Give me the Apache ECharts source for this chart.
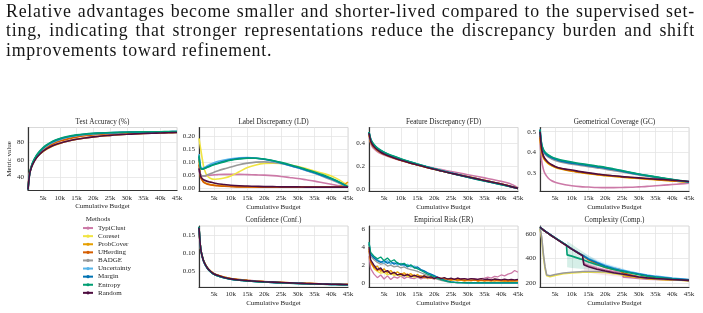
<!DOCTYPE html>
<html>
<head>
<meta charset="utf-8">
<script src="https://cdn.jsdelivr.net/npm/echarts@6/dist/echarts.min.js"></script>
<style>
  html, body { margin: 0; padding: 0; background: #fff; }
  #wrap { position: relative; width: 703px; height: 313px; overflow: hidden; }
  #chart { position: absolute; left: 0; top: 0; width: 703px; height: 313px; }
  #para {
    position: absolute; left: 6px; top: 1.5px; width: 689px;
    font-family: "Liberation Serif", serif; font-size: 17.8px; line-height: 19.7px; color: #161616;
    letter-spacing: 0.8px;
  }
  #para div { text-align: justify; text-align-last: justify; white-space: nowrap; }
  #para div.last { text-align-last: left; }
</style>
</head>
<body>
<div id="wrap">
  <div id="chart"></div>
  <div id="para">
    <div>Relative advantages become smaller and shorter-lived compared to the supervised set-</div>
    <div>ting, indicating that stronger representations reduce the discrepancy burden and shift</div>
    <div class="last">improvements toward refinement.</div>
  </div>
</div>
<script>
// ---- data ----
const METHODS = ["TypiClust", "Coreset", "ProbCover", "UHerding", "BADGE", "Uncertainty", "Margin", "Entropy", "Random"];
const COLORS = ["#cc79a7", "#f0e442", "#e69f00", "#d55e00", "#999999", "#56b4e9", "#0072b2", "#009e73", "#4e0d40"];

const BUDGET = [500, 1000, 1500, 2000, 3000, 4000, 5000, 6000, 8000, 10000, 12500, 15000, 17500, 20000, 22500, 25000, 27500, 30000, 32500, 35000, 37500, 40000, 42500, 45000];
const X_TICKS = [5000, 10000, 15000, 20000, 25000, 30000, 35000, 40000, 45000];

const ACC = {
  TypiClust:   [30, 46, 53, 57.5, 63, 67, 70, 72.5, 76.5, 79, 81.5, 83.5, 85, 86.2, 87.2, 88, 88.7, 89.3, 89.8, 90.2, 90.6, 90.9, 91.2, 91.4],
  Coreset:     [26, 44, 51, 56, 63, 68, 71.5, 74.5, 79, 82, 85, 87, 88.3, 89.2, 89.9, 90.4, 90.8, 91.1, 91.4, 91.6, 91.8, 91.9, 92, 92.1],
  ProbCover:   [28, 45, 52, 56.5, 62.5, 66.5, 69.5, 72, 76, 78.8, 81.5, 83.5, 85, 86.2, 87.2, 88, 88.7, 89.3, 89.8, 90.2, 90.5, 90.8, 91.1, 91.3],
  UHerding:    [27, 45, 52, 57, 63.5, 68, 71.5, 74, 78.5, 81.5, 84, 86, 87.5, 88.5, 89.3, 89.9, 90.4, 90.8, 91.1, 91.4, 91.6, 91.8, 91.9, 92],
  BADGE:       [26, 44.5, 52, 57, 64, 69, 72.5, 75.5, 80, 83, 85.8, 87.6, 88.8, 89.7, 90.3, 90.8, 91.1, 91.4, 91.6, 91.8, 91.9, 92, 92.1, 92.2],
  Uncertainty: [26, 44, 51.5, 57, 64, 69, 73, 76, 80.5, 83.5, 86.2, 88, 89.2, 90, 90.6, 91, 91.3, 91.5, 91.7, 91.9, 92, 92.1, 92.2, 92.3],
  Margin:      [26, 44.5, 52, 57.5, 64.5, 69.5, 73.5, 76.5, 81, 84, 86.5, 88.2, 89.3, 90.1, 90.6, 91, 91.3, 91.6, 91.8, 91.9, 92, 92.1, 92.2, 92.3],
  Entropy:     [26, 45, 52.5, 58, 65, 70, 74, 77, 81.5, 84.5, 87, 88.6, 89.6, 90.3, 90.8, 91.2, 91.5, 91.7, 91.9, 92, 92.1, 92.2, 92.3, 92.4],
  Random:      [26, 44, 51, 55.5, 62, 66.5, 70, 72.5, 76.5, 79, 81.5, 83.5, 85, 86.3, 87.3, 88, 88.7, 89.2, 89.7, 90.1, 90.4, 90.7, 91, 91.2]
};

const LD = {
  TypiClust:   [0.065, 0.05, 0.046, 0.045, 0.047, 0.049, 0.05, 0.051, 0.052, 0.052, 0.052, 0.051, 0.05, 0.049, 0.047, 0.044, 0.04, 0.036, 0.031, 0.026, 0.02, 0.014, 0.008, 0.003],
  Coreset:     [0.19, 0.15, 0.11, 0.075, 0.045, 0.036, 0.033, 0.034, 0.038, 0.046, 0.062, 0.078, 0.088, 0.094, 0.095, 0.094, 0.089, 0.082, 0.074, 0.065, 0.056, 0.046, 0.03, 0.008],
  ProbCover:   [0.11, 0.045, 0.03, 0.022, 0.016, 0.013, 0.011, 0.009, 0.007, 0.006, 0.005, 0.004, 0.004, 0.003, 0.003, 0.003, 0.003, 0.003, 0.003, 0.003, 0.003, 0.003, 0.005, 0.022],
  UHerding:    [0.09, 0.04, 0.028, 0.02, 0.014, 0.011, 0.009, 0.008, 0.006, 0.005, 0.004, 0.004, 0.003, 0.003, 0.003, 0.003, 0.003, 0.003, 0.003, 0.003, 0.003, 0.003, 0.003, 0.003],
  BADGE:       [0.075, 0.05, 0.046, 0.046, 0.05, 0.055, 0.06, 0.065, 0.073, 0.08, 0.089, 0.095, 0.099, 0.1, 0.098, 0.094, 0.086, 0.077, 0.067, 0.056, 0.044, 0.031, 0.017, 0.004],
  Uncertainty: [0.13, 0.08, 0.075, 0.078, 0.085, 0.092, 0.097, 0.101, 0.107, 0.112, 0.116, 0.117, 0.115, 0.11, 0.103, 0.095, 0.086, 0.077, 0.067, 0.057, 0.046, 0.034, 0.02, 0.004],
  Margin:      [0.12, 0.075, 0.072, 0.074, 0.08, 0.086, 0.091, 0.095, 0.102, 0.108, 0.113, 0.115, 0.114, 0.11, 0.104, 0.096, 0.087, 0.078, 0.068, 0.058, 0.047, 0.035, 0.021, 0.004],
  Entropy:     [0.125, 0.075, 0.072, 0.074, 0.079, 0.084, 0.089, 0.093, 0.1, 0.106, 0.111, 0.114, 0.114, 0.111, 0.105, 0.098, 0.09, 0.081, 0.071, 0.061, 0.05, 0.037, 0.022, 0.004],
  Random:      [0.075, 0.045, 0.035, 0.03, 0.025, 0.022, 0.019, 0.016, 0.013, 0.01, 0.008, 0.007, 0.006, 0.005, 0.005, 0.004, 0.004, 0.004, 0.003, 0.003, 0.003, 0.003, 0.003, 0.003]
};

const FD = {
  TypiClust:   [0.47, 0.4, 0.37, 0.353, 0.328, 0.311, 0.298, 0.286, 0.266, 0.249, 0.23, 0.212, 0.196, 0.181, 0.166, 0.152, 0.138, 0.124, 0.11, 0.096, 0.081, 0.065, 0.046, 0.01],
  Coreset:     [0.49, 0.42, 0.39, 0.37, 0.342, 0.322, 0.307, 0.294, 0.272, 0.253, 0.231, 0.211, 0.191, 0.172, 0.155, 0.138, 0.122, 0.106, 0.09, 0.074, 0.058, 0.042, 0.024, 0.003],
  ProbCover:   [0.48, 0.41, 0.385, 0.366, 0.339, 0.32, 0.305, 0.292, 0.27, 0.251, 0.23, 0.21, 0.19, 0.172, 0.155, 0.138, 0.122, 0.106, 0.09, 0.074, 0.058, 0.041, 0.023, 0.003],
  UHerding:    [0.49, 0.42, 0.39, 0.37, 0.342, 0.322, 0.306, 0.293, 0.271, 0.252, 0.23, 0.21, 0.19, 0.171, 0.154, 0.137, 0.121, 0.105, 0.089, 0.073, 0.057, 0.041, 0.023, 0.003],
  BADGE:       [0.5, 0.43, 0.4, 0.38, 0.35, 0.33, 0.314, 0.3, 0.278, 0.258, 0.235, 0.214, 0.194, 0.175, 0.157, 0.139, 0.122, 0.105, 0.088, 0.072, 0.056, 0.039, 0.022, 0.003],
  Uncertainty: [0.5, 0.437, 0.407, 0.387, 0.357, 0.337, 0.321, 0.307, 0.284, 0.263, 0.24, 0.218, 0.197, 0.177, 0.158, 0.14, 0.122, 0.104, 0.087, 0.07, 0.054, 0.038, 0.021, 0.002],
  Margin:      [0.5, 0.435, 0.405, 0.385, 0.355, 0.335, 0.319, 0.305, 0.282, 0.261, 0.238, 0.216, 0.195, 0.175, 0.156, 0.138, 0.12, 0.102, 0.085, 0.069, 0.053, 0.037, 0.02, 0.002],
  Entropy:     [0.5, 0.44, 0.41, 0.39, 0.36, 0.34, 0.323, 0.309, 0.286, 0.265, 0.241, 0.218, 0.196, 0.175, 0.156, 0.137, 0.119, 0.101, 0.084, 0.068, 0.052, 0.036, 0.02, 0.002],
  Random:      [0.49, 0.42, 0.39, 0.37, 0.342, 0.322, 0.306, 0.293, 0.271, 0.252, 0.23, 0.21, 0.19, 0.171, 0.154, 0.137, 0.121, 0.105, 0.089, 0.073, 0.057, 0.041, 0.023, 0.003]
};

const GC = {
  TypiClust:   [0.46, 0.36, 0.32, 0.298, 0.276, 0.264, 0.257, 0.252, 0.245, 0.24, 0.236, 0.234, 0.232, 0.231, 0.231, 0.232, 0.233, 0.235, 0.237, 0.24, 0.243, 0.246, 0.249, 0.252],
  Coreset:     [0.48, 0.405, 0.378, 0.364, 0.347, 0.337, 0.33, 0.324, 0.317, 0.311, 0.305, 0.299, 0.294, 0.29, 0.286, 0.282, 0.279, 0.276, 0.273, 0.27, 0.267, 0.264, 0.261, 0.258],
  ProbCover:   [0.47, 0.4, 0.375, 0.362, 0.346, 0.336, 0.329, 0.323, 0.316, 0.31, 0.304, 0.298, 0.293, 0.289, 0.285, 0.281, 0.278, 0.275, 0.272, 0.269, 0.266, 0.263, 0.26, 0.257],
  UHerding:    [0.48, 0.41, 0.382, 0.367, 0.35, 0.34, 0.332, 0.326, 0.319, 0.313, 0.306, 0.3, 0.295, 0.291, 0.287, 0.283, 0.28, 0.277, 0.274, 0.271, 0.268, 0.265, 0.262, 0.259],
  BADGE:       [0.505, 0.43, 0.405, 0.392, 0.378, 0.369, 0.362, 0.357, 0.35, 0.344, 0.338, 0.332, 0.326, 0.32, 0.313, 0.306, 0.299, 0.292, 0.285, 0.279, 0.273, 0.268, 0.263, 0.258],
  Uncertainty: [0.51, 0.438, 0.412, 0.4, 0.386, 0.377, 0.37, 0.365, 0.358, 0.352, 0.345, 0.339, 0.333, 0.327, 0.32, 0.312, 0.304, 0.296, 0.289, 0.282, 0.276, 0.27, 0.264, 0.259],
  Margin:      [0.51, 0.436, 0.41, 0.397, 0.383, 0.374, 0.367, 0.362, 0.355, 0.349, 0.343, 0.337, 0.331, 0.325, 0.318, 0.31, 0.302, 0.295, 0.288, 0.281, 0.275, 0.269, 0.264, 0.259],
  Entropy:     [0.51, 0.44, 0.415, 0.402, 0.388, 0.379, 0.372, 0.367, 0.36, 0.354, 0.347, 0.341, 0.335, 0.329, 0.321, 0.313, 0.305, 0.297, 0.29, 0.283, 0.277, 0.271, 0.265, 0.26],
  Random:      [0.5, 0.415, 0.385, 0.37, 0.352, 0.341, 0.333, 0.327, 0.32, 0.316, 0.308, 0.302, 0.297, 0.292, 0.288, 0.284, 0.281, 0.278, 0.275, 0.272, 0.27, 0.267, 0.264, 0.261]
};

const CONF = {
  TypiClust:   [0.17, 0.111, 0.089, 0.075, 0.058, 0.048, 0.042, 0.038, 0.032, 0.028, 0.025, 0.023, 0.021, 0.0195, 0.018, 0.017, 0.016, 0.015, 0.0142, 0.0135, 0.0128, 0.0122, 0.0117, 0.0112],
  Coreset:     [0.172, 0.112, 0.09, 0.075, 0.058, 0.048, 0.041, 0.037, 0.031, 0.027, 0.024, 0.022, 0.0205, 0.019, 0.0178, 0.0167, 0.0157, 0.0148, 0.014, 0.0133, 0.0126, 0.012, 0.0115, 0.011],
  ProbCover:   [0.171, 0.112, 0.09, 0.076, 0.059, 0.049, 0.042, 0.038, 0.032, 0.028, 0.025, 0.0228, 0.021, 0.0195, 0.0182, 0.017, 0.016, 0.0151, 0.0143, 0.0136, 0.0129, 0.0123, 0.0118, 0.0113],
  UHerding:    [0.172, 0.111, 0.089, 0.075, 0.058, 0.048, 0.041, 0.037, 0.031, 0.027, 0.024, 0.022, 0.0204, 0.019, 0.0178, 0.0167, 0.0157, 0.0148, 0.014, 0.0133, 0.0126, 0.012, 0.0115, 0.011],
  BADGE:       [0.173, 0.111, 0.088, 0.074, 0.057, 0.047, 0.04, 0.036, 0.03, 0.026, 0.023, 0.021, 0.0195, 0.018, 0.017, 0.016, 0.015, 0.0142, 0.0134, 0.0127, 0.012, 0.0114, 0.0109, 0.0104],
  Uncertainty: [0.174, 0.112, 0.089, 0.074, 0.057, 0.047, 0.04, 0.036, 0.03, 0.026, 0.023, 0.021, 0.0195, 0.018, 0.017, 0.016, 0.015, 0.0142, 0.0134, 0.0127, 0.012, 0.0114, 0.0109, 0.0104],
  Margin:      [0.174, 0.112, 0.089, 0.074, 0.057, 0.047, 0.04, 0.036, 0.03, 0.026, 0.023, 0.021, 0.0195, 0.018, 0.017, 0.016, 0.015, 0.0142, 0.0134, 0.0127, 0.012, 0.0114, 0.0109, 0.0104],
  Entropy:     [0.175, 0.113, 0.09, 0.075, 0.057, 0.047, 0.04, 0.036, 0.03, 0.026, 0.023, 0.021, 0.0193, 0.0178, 0.0168, 0.0158, 0.0148, 0.014, 0.0132, 0.0125, 0.0118, 0.0112, 0.0107, 0.0102],
  Random:      [0.172, 0.112, 0.09, 0.075, 0.058, 0.048, 0.041, 0.037, 0.031, 0.027, 0.024, 0.022, 0.0205, 0.019, 0.0178, 0.0167, 0.0157, 0.0148, 0.014, 0.0133, 0.0126, 0.012, 0.0115, 0.011]
};

// empirical risk, one value per 1k of budget
const ER_BUDGET = [500, 1000, 2000, 3000, 4000, 5000, 6000, 7000, 8000, 9000,
  10000, 11000, 12000, 13000, 14000, 15000, 16000, 17000, 18000, 19000,
  20000, 21000, 22000, 23000, 24000, 25000, 26000, 27000, 28000, 29000,
  30000, 31000, 32000, 33000, 34000, 35000, 36000, 37000, 38000, 39000,
  40000, 41000, 42000, 43000, 44000, 45000];
const ER = {
  TypiClust: [3.0, 1.6, 1.0, 0.6, 0.9, 0.45, 0.8, 0.4, 0.7, 0.55,
    0.8, 0.5, 0.7, 0.55, 0.5, 0.65, 0.45, 0.6, 0.5, 0.55,
    0.45, 0.6, 0.5, 0.55, 0.45, 0.5, 0.4, 0.55, 0.45, 0.5,
    0.42, 0.5, 0.45, 0.4, 0.5, 0.55, 0.65, 0.55, 0.75, 0.7,
    0.9, 0.8, 1.0, 1.1, 1.4, 1.2],
  Coreset: [4.2, 2.5, 1.6, 1.3, 1.1, 1.2, 0.9, 1.05, 0.85, 0.95,
    0.8, 0.9, 0.7, 0.8, 0.65, 0.75, 0.6, 0.7, 0.55, 0.65,
    0.5, 0.6, 0.45, 0.5, 0.4, 0.45, 0.35, 0.42, 0.32, 0.38,
    0.3, 0.35, 0.28, 0.33, 0.26, 0.3, 0.25, 0.3, 0.22, 0.28,
    0.22, 0.26, 0.2, 0.25, 0.22, 0.24],
  ProbCover: [3.8, 2.3, 1.7, 1.9, 1.3, 1.6, 1.1, 1.4, 1.0, 1.25,
    0.95, 1.15, 0.85, 1.05, 0.75, 0.95, 0.65, 0.85, 0.6, 0.75,
    0.5, 0.6, 0.45, 0.55, 0.35, 0.3, 0.38, 0.25, 0.32, 0.22,
    0.3, 0.25, 0.35, 0.2, 0.3, 0.25, 0.32, 0.22, 0.45, 0.28,
    0.3, 0.22, 0.3, 0.25, 0.28, 0.3],
  UHerding: [3.6, 2.4, 1.8, 1.4, 1.6, 1.2, 1.4, 1.05, 1.2, 0.9,
    1.05, 0.85, 1.0, 0.75, 0.9, 0.7, 0.8, 0.6, 0.7, 0.55,
    0.62, 0.48, 0.55, 0.42, 0.5, 0.38, 0.45, 0.35, 0.42, 0.3,
    0.38, 0.3, 0.35, 0.28, 0.32, 0.25, 0.3, 0.28, 0.25, 0.3,
    0.25, 0.28, 0.22, 0.26, 0.24, 0.25],
  BADGE: [4.3, 3.0, 2.6, 2.3, 2.1, 2.2, 1.9, 2.0, 1.8, 1.9,
    1.7, 1.8, 1.6, 1.5, 1.4, 1.3, 1.15, 1.0, 0.85, 0.7,
    0.55, 0.42, 0.3, 0.21, 0.14, 0.1, 0.07, 0.05, 0.04, 0.03,
    0.03, 0.02, 0.02, 0.02, 0.02, 0.02, 0.02, 0.01, 0.01, 0.01,
    0.01, 0.01, 0.01, 0.01, 0.01, 0.01],
  Uncertainty: [4.5, 3.3, 2.9, 2.6, 2.4, 2.2, 2.5, 2.1, 2.3, 2.0,
    2.2, 1.9, 2.1, 1.8, 1.9, 1.6, 1.45, 1.3, 1.1, 0.95,
    0.78, 0.6, 0.44, 0.3, 0.2, 0.13, 0.08, 0.06, 0.04, 0.04,
    0.03, 0.03, 0.02, 0.02, 0.02, 0.02, 0.02, 0.01, 0.02, 0.01,
    0.01, 0.01, 0.01, 0.01, 0.01, 0.01],
  Margin: [4.4, 3.2, 2.8, 2.5, 2.3, 2.5, 2.2, 2.4, 2.1, 2.3,
    2.0, 2.1, 1.8, 2.0, 1.7, 1.8, 1.5, 1.35, 1.15, 1.0,
    0.82, 0.64, 0.48, 0.34, 0.22, 0.14, 0.09, 0.06, 0.05, 0.04,
    0.03, 0.03, 0.03, 0.02, 0.02, 0.02, 0.02, 0.02, 0.02, 0.01,
    0.01, 0.02, 0.01, 0.01, 0.01, 0.01],
  Entropy: [4.6, 3.4, 3.0, 2.7, 2.9, 2.5, 2.8, 2.4, 2.6, 2.2,
    2.1, 2.2, 1.9, 2.0, 1.7, 1.6, 1.4, 1.2, 1.0, 0.85,
    0.7, 0.52, 0.38, 0.26, 0.17, 0.11, 0.07, 0.05, 0.04, 0.03,
    0.03, 0.02, 0.03, 0.02, 0.02, 0.02, 0.01, 0.02, 0.01, 0.01,
    0.01, 0.01, 0.01, 0.01, 0.01, 0.01],
  Random: [4.0, 2.6, 2.0, 1.5, 1.7, 1.2, 1.4, 1.0, 1.2, 0.9,
    1.0, 0.8, 0.95, 0.7, 0.85, 0.75, 0.6, 0.8, 0.6, 0.7,
    0.5, 0.65, 0.5, 0.6, 0.45, 0.55, 0.4, 0.55, 0.45, 0.5,
    0.4, 0.5, 0.45, 0.4, 0.5, 0.4, 0.45, 0.35, 0.45, 0.4,
    0.35, 0.45, 0.35, 0.4, 0.35, 0.4]
};

const COMP_BUDGET = [500, 1000, 1500, 2000, 2500, 3500, 5000, 7500, 8400, 8600, 10000, 12500, 13200, 13600, 15000, 17500, 20000, 22500, 24500, 25500, 27500, 30000, 32500, 35000, 40000, 45000];
const COMP = {
  TypiClust:   [652, 640, 630, 620, 611, 592, 565, 520, 505, 501, 476, 435, 424, 360, 345, 325, 308, 296, 290, 250, 246, 240, 235, 232, 228, 224],
  Coreset:     [640, 560, 420, 320, 262, 255, 265, 278, 281, 281, 285, 289, 290, 290, 291, 291, 288, 278, 270, 266, 258, 248, 240, 235, 228, 223],
  ProbCover:   [652, 640, 630, 620, 611, 592, 566, 522, 507, 503, 478, 438, 428, 422, 398, 368, 338, 322, 312, 262, 256, 248, 240, 235, 228, 224],
  UHerding:    [652, 640, 630, 620, 611, 592, 566, 521, 506, 502, 477, 436, 426, 420, 390, 356, 328, 312, 305, 285, 270, 255, 245, 238, 230, 225],
  BADGE:       [645, 575, 440, 335, 268, 262, 272, 284, 287, 287, 291, 295, 296, 296, 297, 297, 294, 285, 276, 272, 264, 253, 244, 238, 230, 225],
  Uncertainty: [652, 641, 631, 622, 613, 595, 568, 524, 508, 505, 478, 438, 428, 422, 402, 372, 346, 326, 313, 307, 295, 281, 269, 259, 243, 232],
  Margin:      [652, 641, 631, 622, 613, 594, 567, 523, 507, 504, 477, 437, 427, 421, 396, 366, 338, 318, 305, 300, 289, 276, 264, 254, 240, 229],
  Entropy:     [652, 640, 630, 620, 611, 592, 566, 524, 508, 430, 420, 398, 392, 388, 372, 350, 330, 312, 300, 295, 284, 270, 258, 249, 236, 224],
  Random:      [652, 640, 630, 620, 611, 592, 565, 520, 505, 501, 476, 435, 424, 350, 335, 315, 300, 287, 278, 274, 265, 252, 245, 240, 232, 225]
};
// shaded spread around a few complexity curves
const COMP_BAND_E_X = [8600, 10000, 12500, 15000, 17500];
const COMP_BAND_E_LO = [330, 325, 318, 312, 305];
const COMP_BAND_E_HI = [540, 515, 470, 425, 385];
const COMP_BAND_T_X = [13600, 15000, 17500, 20000, 22500, 24500, 25500];
const COMP_BAND_T_LO = [300, 288, 275, 266, 258, 254, 238];
const COMP_BAND_T_HI = [395, 380, 358, 340, 326, 318, 300];
const COMP_BAND_U_X = [13600, 15000, 17500, 20000, 22500, 25500];
const COMP_BAND_U_LO = [400, 382, 352, 328, 310, 292];
const COMP_BAND_U_HI = [445, 425, 392, 364, 342, 322];

// ---- layout ----
const FONT = "'Liberation Serif', 'DejaVu Serif', serif";
const W = 149;
const PANELS = [
  { title: "Test Accuracy (%)", data: ACC, xs: BUDGET, left: 28, top: 127.5, h: 63, yMin: 25, yMax: 97, yTicks: [40, 60, 80], fmt: v => String(v), smooth: true, yName: "Metric value" },
  { title: "Label Discrepancy (LD)", data: LD, xs: BUDGET, left: 199, top: 127.5, h: 63.5, yMin: -0.012, yMax: 0.232, yTicks: [0, 0.05, 0.1, 0.15, 0.2], fmt: v => v.toFixed(2), smooth: true },
  { title: "Feature Discrepancy (FD)", data: FD, xs: BUDGET, left: 369, top: 127.5, h: 63.5, yMin: -0.02, yMax: 0.54, yTicks: [0, 0.2, 0.4], fmt: v => v.toFixed(1), smooth: true },
  { title: "Geometrical Coverage (GC)", data: GC, xs: BUDGET, left: 540, top: 127.5, h: 63.5, yMin: 0.215, yMax: 0.52, yTicks: [0.3, 0.4, 0.5], fmt: v => v.toFixed(1), smooth: true },
  { title: "Confidence (Conf.)", data: CONF, xs: BUDGET, left: 199, top: 226, h: 61, yMin: 0.004, yMax: 0.177, yTicks: [0.05, 0.1, 0.15], fmt: v => v.toFixed(2), smooth: true },
  { title: "Empirical Risk (ER)", data: ER, xs: ER_BUDGET, left: 369, top: 226, h: 61, yMin: -0.44, yMax: 6.36, yTicks: [0, 2, 4, 6], fmt: v => String(v), smooth: false },
  { title: "Complexity (Comp.)", data: COMP, xs: COMP_BUDGET, left: 540, top: 226, h: 61, yMin: 172, yMax: 662, yTicks: [200, 400, 600], fmt: v => String(v), smooth: false }
];

const pairs = (xs, ys) => ys.map((y, k) => [xs[k], y]);
const labelStyle = { fontSize: 7, color: "#262626", fontFamily: FONT };

const grid = [], xAxis = [], yAxis = [], series = [], graphic = [];

// one polygon per band, corners placed by the axes of the panel
function addBand(panelIdx, xs, lo, hi, color) {
  series.push({
    type: "custom", xAxisIndex: panelIdx, yAxisIndex: panelIdx, silent: true, clip: true,
    encode: { x: 0, y: [1, 2] },
    data: xs.map((x, k) => [x, lo[k], hi[k]]),
    renderItem: (params, api) => {
      if (params.dataIndex !== 0) return null;
      const upper = xs.map((x, k) => api.coord([x, hi[k]]));
      const lower = xs.map((x, k) => api.coord([x, lo[k]])).reverse();
      return { type: "polygon", shape: { points: upper.concat(lower) }, style: { fill: color } };
    }
  });
}

PANELS.forEach((p, i) => {
  grid.push({ left: p.left, top: p.top, width: W, height: p.h, show: true, borderColor: "#cfcfcf", borderWidth: 0.8, outerBoundsMode: "none" });
  xAxis.push({
    type: "value", gridIndex: i, min: 500, max: 45000,
    axisLine: { show: true, onZero: false, lineStyle: { color: "#333", width: 1.2 } },
    axisTick: { show: false, customValues: X_TICKS },
    axisLabel: { customValues: X_TICKS, formatter: v => (v / 1000) + "k", margin: 4, ...labelStyle },
    splitLine: { show: true, lineStyle: { color: "#e4e4e4", width: 0.8 } },
    name: "Cumulative Budget", nameLocation: "middle", nameGap: 12.5, nameTextStyle: labelStyle
  });
  yAxis.push({
    type: "value", gridIndex: i, min: p.yMin, max: p.yMax,
    axisLine: { show: true, onZero: false, lineStyle: { color: "#333", width: 1.2 } },
    axisTick: { show: false, customValues: p.yTicks },
    axisLabel: { customValues: p.yTicks, formatter: p.fmt, margin: 4, ...labelStyle },
    splitLine: { show: true, lineStyle: { color: "#e4e4e4", width: 0.8 } },
    name: p.yName || "", nameLocation: "middle", nameGap: 11, nameRotate: 90, nameTextStyle: labelStyle
  });
  graphic.push({
    type: "text", x: p.left + W / 2, y: p.top - 5.5,
    style: { text: p.title, fontSize: 7.2, fontFamily: FONT, fill: "#262626", align: "center", verticalAlign: "middle" }
  });

  if (i === 6) {
    addBand(i, COMP_BAND_E_X, COMP_BAND_E_LO, COMP_BAND_E_HI, "rgba(0,158,115,0.16)");
    addBand(i, COMP_BAND_U_X, COMP_BAND_U_LO, COMP_BAND_U_HI, "rgba(86,180,233,0.18)");
    addBand(i, COMP_BAND_T_X, COMP_BAND_T_LO, COMP_BAND_T_HI, "rgba(204,121,167,0.18)");
  }

  METHODS.forEach((m, k) => {
    series.push({
      name: m, type: "line", xAxisIndex: i, yAxisIndex: i,
      data: pairs(p.xs, p.data[m]),
      symbol: "none", smooth: p.smooth ? 0.3 : false,
      color: COLORS[k],
      lineStyle: { color: COLORS[k], width: i === 5 ? 1.3 : 1.6 }
    });
  });
});

graphic.push({
  type: "text", x: 98, y: 219.5,
  style: { text: "Methods", fontSize: 7, fontFamily: FONT, fill: "#262626", align: "center", verticalAlign: "middle" }
});

const chart = echarts.init(document.getElementById("chart"), null, { renderer: "canvas" });
chart.setOption({
  animation: false,
  backgroundColor: "transparent",
  textStyle: { fontFamily: FONT },
  grid, xAxis, yAxis, series, graphic,
  legend: {
    data: METHODS, orient: "vertical", left: 82, top: 224,
    itemWidth: 10, itemHeight: 4, itemGap: 0, padding: 0,
    textStyle: { fontSize: 7, lineHeight: 8.1, color: "#262626", fontFamily: FONT },
    selectedMode: false
  },
  tooltip: { show: false }
});
</script>
</body>
</html>
